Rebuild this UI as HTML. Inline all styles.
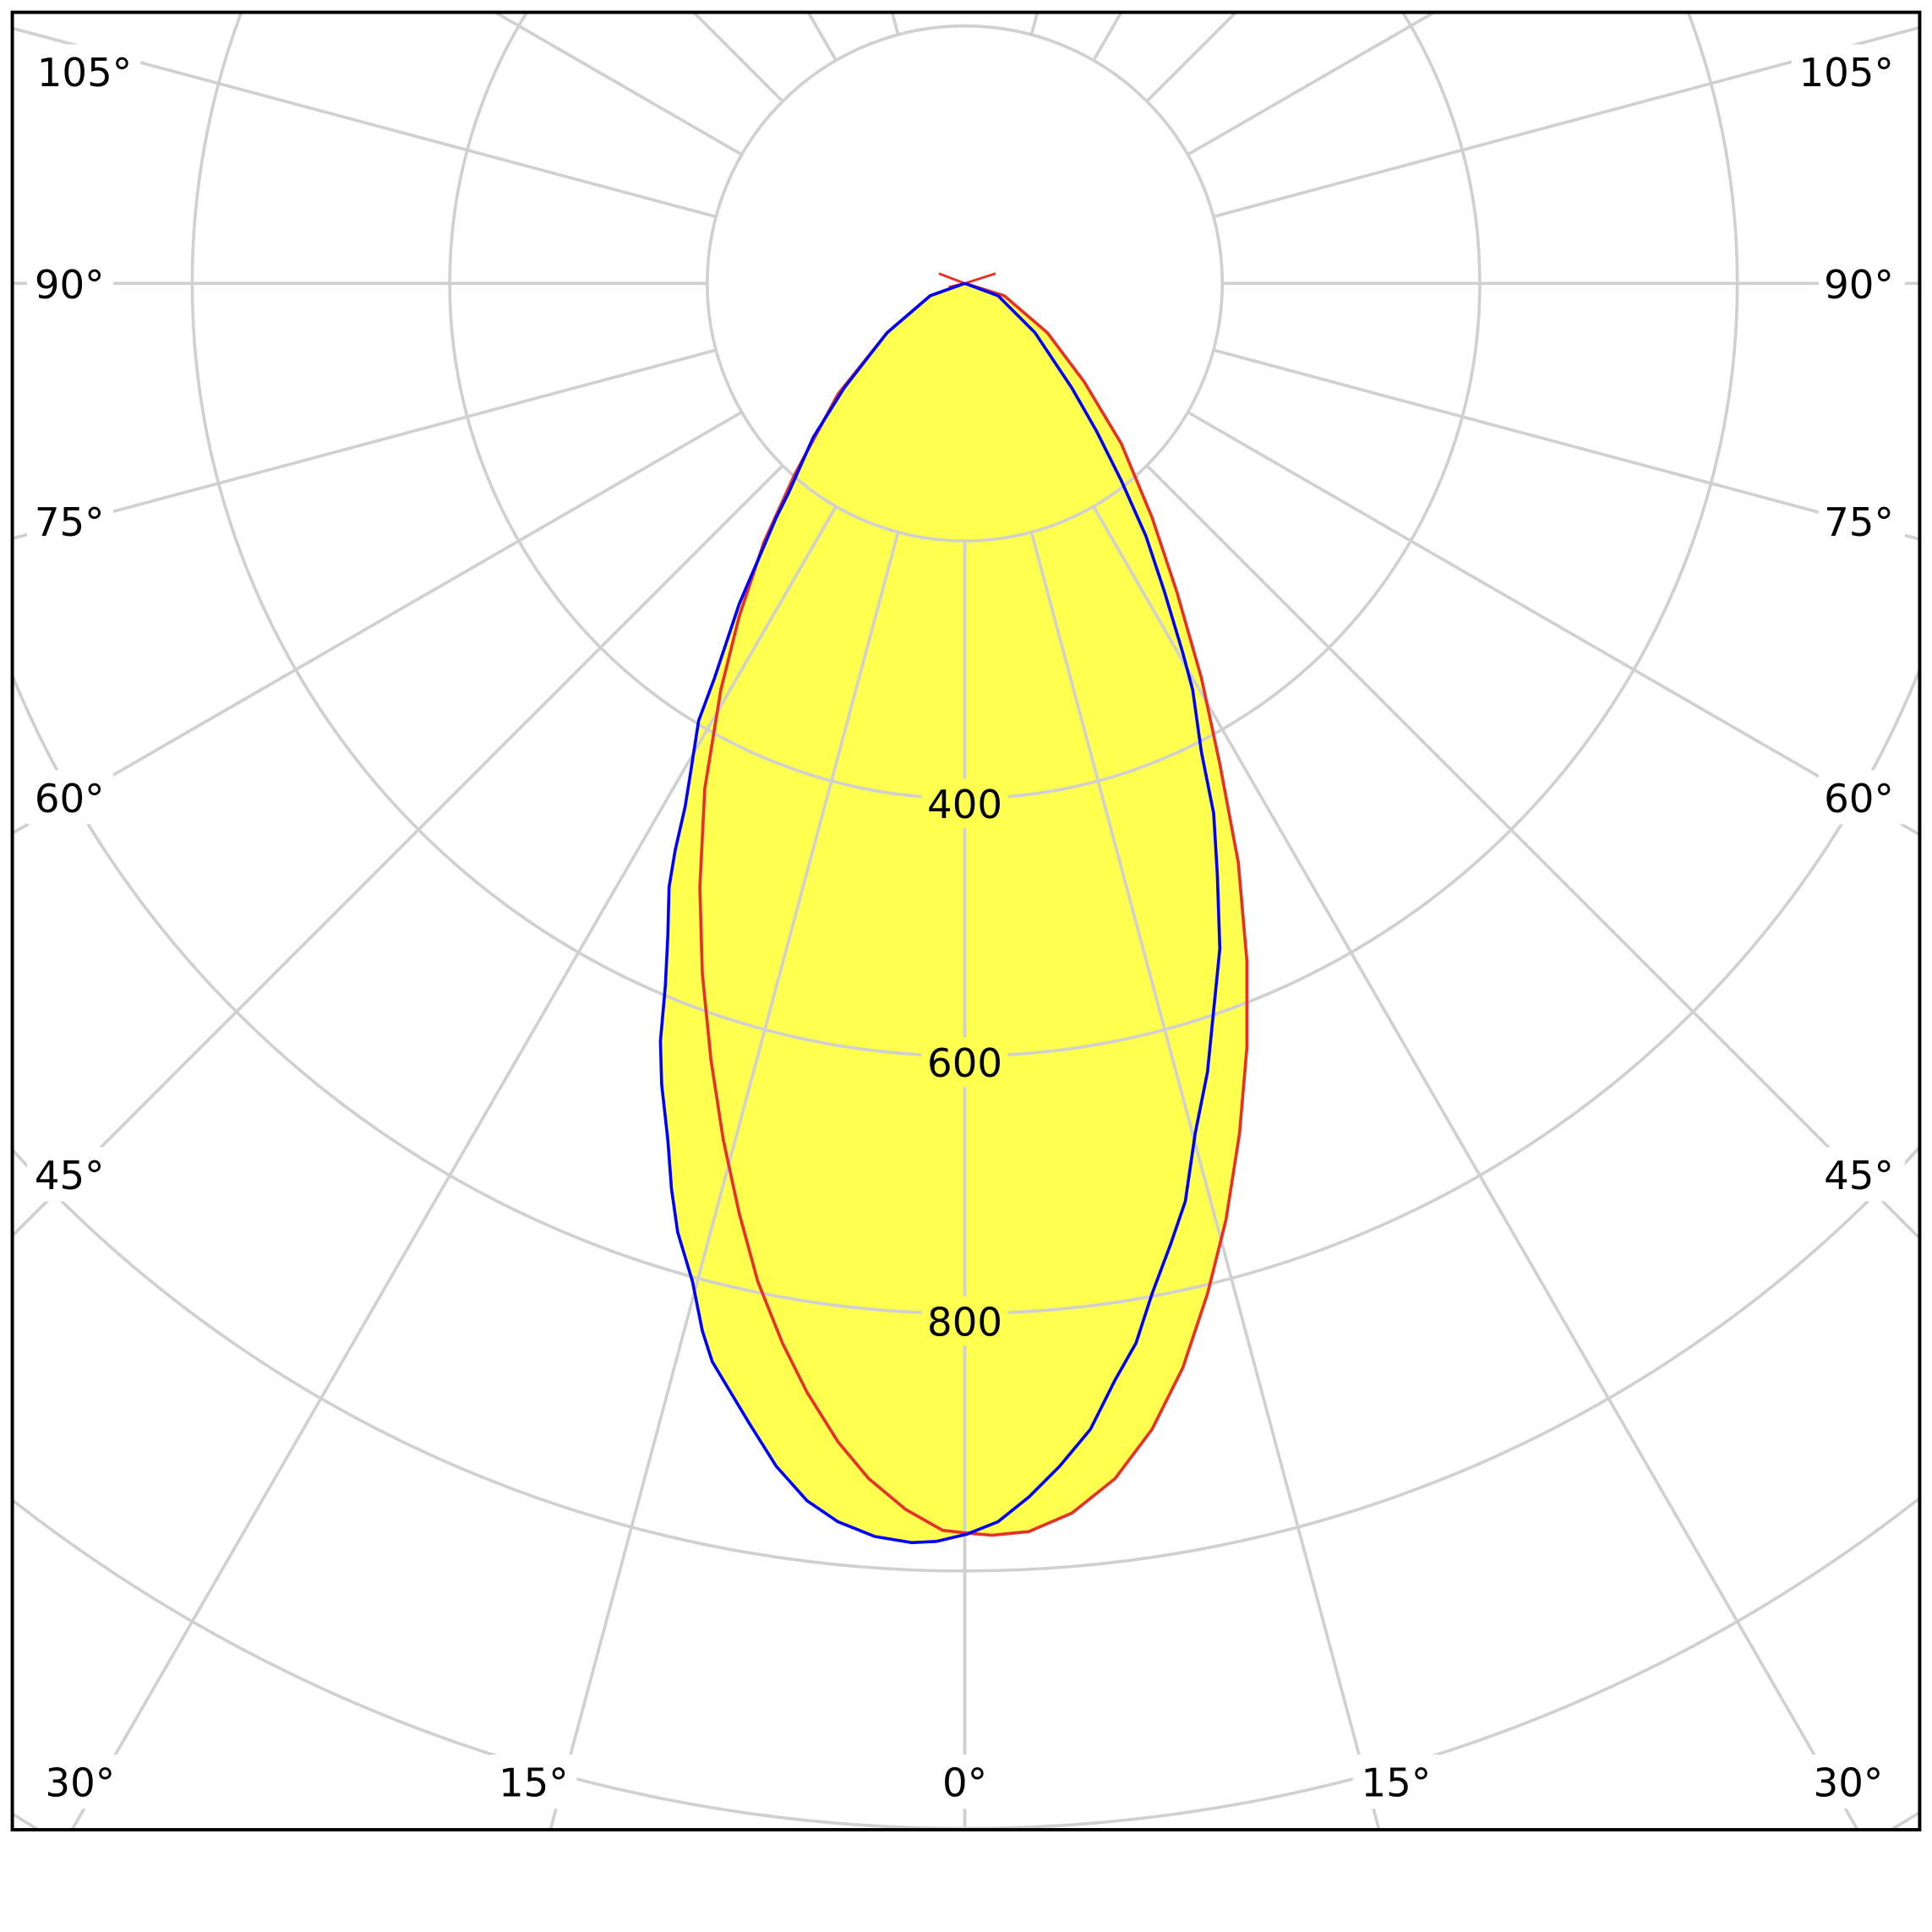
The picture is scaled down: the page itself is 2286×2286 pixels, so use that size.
<!DOCTYPE html>
<html><head><style>html,body{margin:0;padding:0;background:#fff;width:2286px;height:2286px;overflow:hidden}svg{display:block}</style></head>
<body>
<svg width="2286" height="2286" viewBox="0 0 1568 1568" xmlns="http://www.w3.org/2000/svg">
<defs><clipPath id="c"><rect x="10" y="10" width="1548" height="1475"/></clipPath></defs>
<rect width="1568" height="1568" fill="#fff"/>
<g clip-path="url(#c)">
<g fill="#ffff50" stroke="none">
<polygon points="783,230 815,240 850,270 880,310 910,360 935,420 955,480 975,550 990,620 1005,700 1012,780 1012,850 1006,920 995,990 980,1050 960,1110 935,1160 905,1200 870,1228 835,1243 805,1246 783,1244 765,1242 735,1225 705,1200 680,1170 655,1130 635,1090 615,1040 600,985 587,925 577,860 570,790 568,720 572,640 585,560 600,500 620,440 645,385 680,320 720,270 755,240"/>
<polygon points="783,230 810,240 840,270 870,315 890,350 910,390 930,435 945,480 960,530 968,560 975,610 985,660 988,710 990,770 985,820 980,870 970,920 962,975 950,1010 935,1050 922,1090 905,1120 885,1160 860,1190 835,1215 810,1235 785,1245 760,1251 740,1252 710,1247 680,1235 655,1218 630,1190 608,1155 590,1125 578,1105 570,1080 562,1040 550,1000 545,965 542,925 537,880 536,845 540,800 542,760 543,720 548,690 556,655 560,630 567,585 580,550 590,520 600,490 615,455 630,420 640,400 660,355 685,315 720,270 755,240"/>
</g>
<g fill="none" stroke="#d0d0d0" stroke-width="2.5">
<circle cx="783" cy="230" r="209"/><circle cx="783" cy="230" r="418"/><circle cx="783" cy="230" r="627"/>
<circle cx="783" cy="230" r="836"/><circle cx="783" cy="230" r="1045"/><circle cx="783" cy="230" r="1254"/><circle cx="783" cy="230" r="1463"/>
<g id="sp">
<line x1="783" y1="439" x2="783" y2="2000"/>
<line x1="783" y1="439" x2="783" y2="2000" transform="rotate(15 783 230)"/>
<line x1="783" y1="439" x2="783" y2="2000" transform="rotate(30 783 230)"/>
<line x1="783" y1="439" x2="783" y2="2000" transform="rotate(45 783 230)"/>
<line x1="783" y1="439" x2="783" y2="2000" transform="rotate(60 783 230)"/>
<line x1="783" y1="439" x2="783" y2="2000" transform="rotate(75 783 230)"/>
<line x1="783" y1="439" x2="783" y2="2000" transform="rotate(90 783 230)"/>
<line x1="783" y1="439" x2="783" y2="2000" transform="rotate(105 783 230)"/>
<line x1="783" y1="439" x2="783" y2="2000" transform="rotate(120 783 230)"/>
<line x1="783" y1="439" x2="783" y2="2000" transform="rotate(135 783 230)"/>
<line x1="783" y1="439" x2="783" y2="2000" transform="rotate(150 783 230)"/>
<line x1="783" y1="439" x2="783" y2="2000" transform="rotate(165 783 230)"/>
</g>
<use href="#sp" transform="translate(1566 0) scale(-1 1)"/>
</g>
<g fill="#ffff50"><rect x="748" y="632" width="70" height="40"/><rect x="748" y="842" width="70" height="40"/><rect x="748" y="1052" width="70" height="40"/></g>
<g fill="#fff">
<rect x="22" y="36" width="92" height="44"/><rect x="22" y="208" width="70" height="44"/><rect x="22" y="401" width="70" height="44"/><rect x="22" y="625" width="70" height="44"/><rect x="22" y="931" width="70" height="44"/>
<rect x="1454" y="36" width="92" height="44"/><rect x="1476" y="208" width="70" height="44"/><rect x="1476" y="401" width="70" height="44"/><rect x="1476" y="625" width="70" height="44"/><rect x="1476" y="931" width="70" height="44"/>
<rect x="30" y="1424" width="70" height="44"/><rect x="398" y="1424" width="70" height="44"/><rect x="758" y="1424" width="50" height="44"/><rect x="1098" y="1424" width="70" height="44"/><rect x="1465" y="1424" width="70" height="44"/>
</g>
<g font-family="'DejaVu Sans', 'Liberation Sans', sans-serif" font-size="32" fill="#000">
<text x="30" y="70">105°</text><text x="28" y="242">90°</text><text x="28" y="435">75°</text><text x="28" y="659">60°</text><text x="28" y="965">45°</text>
<g text-anchor="end"><text x="1537" y="70">105°</text><text x="1537" y="242">90°</text><text x="1537" y="435">75°</text><text x="1537" y="659">60°</text><text x="1537" y="965">45°</text></g>
<g text-anchor="middle"><text x="65" y="1458">30°</text><text x="433" y="1458">15°</text><text x="783" y="1458">0°</text><text x="1133" y="1458">15°</text><text x="1500" y="1458">30°</text>
<text x="783" y="664">400</text><text x="783" y="874">600</text><text x="783" y="1084">800</text></g>
</g>
<polyline fill="none" stroke="#e8302a" stroke-width="2.5" points="783,230 815,240 850,270 880,310 910,360 935,420 955,480 975,550 990,620 1005,700 1012,780 1012,850 1006,920 995,990 980,1050 960,1110 935,1160 905,1200 870,1228 835,1243 805,1246 783,1244 765,1242 735,1225 705,1200 680,1170 655,1130 635,1090 615,1040 600,985 587,925 577,860 570,790 568,720 572,640 585,560 600,500 620,440 645,385 680,320 720,270 755,240 783,230"/>
<path d="M762,222 L783,230 L808,222 M770,233 L783,230" stroke="#e8302a" stroke-width="2" fill="none"/>
<polyline fill="none" stroke="#0000ff" stroke-width="2.5" points="783,230 810,240 840,270 870,315 890,350 910,390 930,435 945,480 960,530 968,560 975,610 985,660 988,710 990,770 985,820 980,870 970,920 962,975 950,1010 935,1050 922,1090 905,1120 885,1160 860,1190 835,1215 810,1235 785,1245 760,1251 740,1252 710,1247 680,1235 655,1218 630,1190 608,1155 590,1125 578,1105 570,1080 562,1040 550,1000 545,965 542,925 537,880 536,845 540,800 542,760 543,720 548,690 556,655 560,630 567,585 580,550 590,520 600,490 615,455 630,420 640,400 660,355 685,315 720,270 755,240 783,230"/>
</g>
<rect x="10" y="10" width="1548" height="1475" fill="none" stroke="#000" stroke-width="2.7"/>
</svg>
</body></html>
